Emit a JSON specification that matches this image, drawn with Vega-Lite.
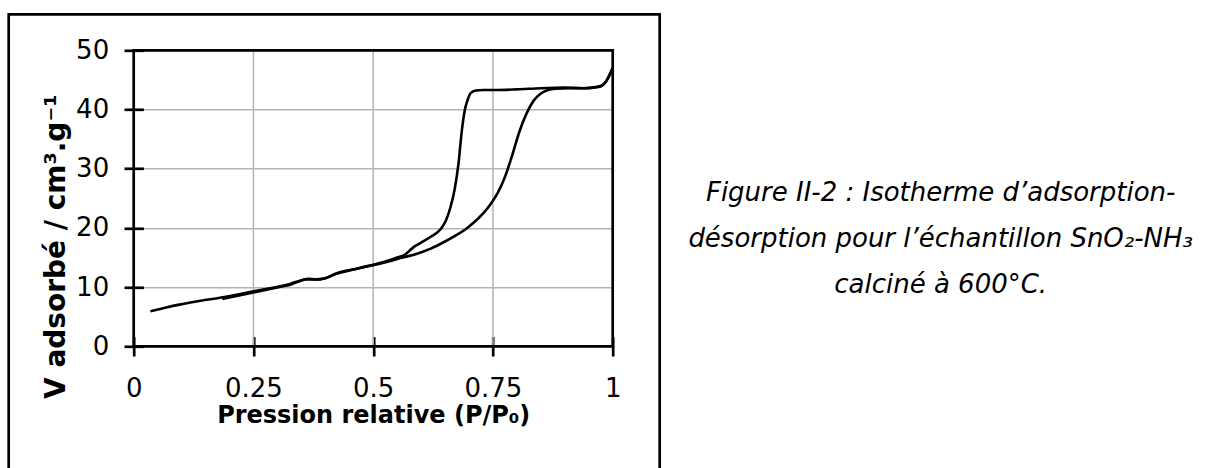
{
  "$schema": "https://vega.github.io/schema/vega-lite/v6.json",
  "background": "white",
  "padding": {"left": 6.7, "top": 12.3, "right": 0, "bottom": 0},
  "bounds": "flush",
  "spacing": 0,
  "config": {
    "view": {"stroke": "black", "strokeWidth": 2.7},
    "font": "DejaVu Sans"
  },
  "hconcat": [
    {
      "width": 651,
      "height": 460,
      "layer": [
        {
          "data": {"values": [{"g": 0.25}, {"g": 0.5}, {"g": 0.75}]},
          "mark": {"type": "rule", "color": "#b4b4b4", "strokeWidth": 1.5},
          "encoding": {
            "x": {"field": "g", "type": "quantitative"},
            "y": {"datum": 0, "type": "quantitative"},
            "y2": {"datum": 50}
          }
        },
        {
          "data": {"values": [
            {"b": "ads", "p": 0.035, "v": 5.9}, {"b": "ads", "p": 0.07, "v": 6.6}, {"b": "ads", "p": 0.10, "v": 7.1},
            {"b": "ads", "p": 0.14, "v": 7.7}, {"b": "ads", "p": 0.18, "v": 8.2}, {"b": "ads", "p": 0.22, "v": 8.8},
            {"b": "ads", "p": 0.25, "v": 9.3}, {"b": "ads", "p": 0.29, "v": 9.9}, {"b": "ads", "p": 0.32, "v": 10.4},
            {"b": "ads", "p": 0.34, "v": 10.9}, {"b": "ads", "p": 0.36, "v": 11.3}, {"b": "ads", "p": 0.385, "v": 11.3},
            {"b": "ads", "p": 0.40, "v": 11.5}, {"b": "ads", "p": 0.425, "v": 12.3}, {"b": "ads", "p": 0.45, "v": 12.8},
            {"b": "ads", "p": 0.47, "v": 13.2}, {"b": "ads", "p": 0.50, "v": 13.7}, {"b": "ads", "p": 0.53, "v": 14.3},
            {"b": "ads", "p": 0.557, "v": 14.9}, {"b": "ads", "p": 0.59, "v": 15.6}, {"b": "ads", "p": 0.62, "v": 16.5},
            {"b": "ads", "p": 0.65, "v": 17.7}, {"b": "ads", "p": 0.67, "v": 18.6}, {"b": "ads", "p": 0.69, "v": 19.6},
            {"b": "ads", "p": 0.71, "v": 20.9}, {"b": "ads", "p": 0.73, "v": 22.5}, {"b": "ads", "p": 0.745, "v": 24.0},
            {"b": "ads", "p": 0.76, "v": 25.9}, {"b": "ads", "p": 0.775, "v": 28.6}, {"b": "ads", "p": 0.79, "v": 32.2},
            {"b": "ads", "p": 0.805, "v": 36.2}, {"b": "ads", "p": 0.82, "v": 39.3}, {"b": "ads", "p": 0.835, "v": 41.5},
            {"b": "ads", "p": 0.85, "v": 42.7}, {"b": "ads", "p": 0.865, "v": 43.3}, {"b": "ads", "p": 0.88, "v": 43.5},
            {"b": "ads", "p": 0.91, "v": 43.6}, {"b": "ads", "p": 0.94, "v": 43.6},
            {"b": "ads", "p": 0.96, "v": 43.7}, {"b": "ads", "p": 0.975, "v": 43.9}, {"b": "ads", "p": 0.985, "v": 44.6},
            {"b": "ads", "p": 0.993, "v": 45.8}, {"b": "ads", "p": 1.0, "v": 47.0},
            {"b": "des", "p": 0.185, "v": 8.0}, {"b": "des", "p": 0.22, "v": 8.6}, {"b": "des", "p": 0.25, "v": 9.1},
            {"b": "des", "p": 0.28, "v": 9.6}, {"b": "des", "p": 0.31, "v": 10.1}, {"b": "des", "p": 0.33, "v": 10.5},
            {"b": "des", "p": 0.35, "v": 11.1}, {"b": "des", "p": 0.365, "v": 11.4}, {"b": "des", "p": 0.38, "v": 11.3},
            {"b": "des", "p": 0.40, "v": 11.5}, {"b": "des", "p": 0.42, "v": 12.2}, {"b": "des", "p": 0.44, "v": 12.7},
            {"b": "des", "p": 0.46, "v": 13.0}, {"b": "des", "p": 0.49, "v": 13.6}, {"b": "des", "p": 0.52, "v": 14.2},
            {"b": "des", "p": 0.55, "v": 15.0}, {"b": "des", "p": 0.565, "v": 15.4}, {"b": "des", "p": 0.585, "v": 16.8},
            {"b": "des", "p": 0.60, "v": 17.5}, {"b": "des", "p": 0.62, "v": 18.5}, {"b": "des", "p": 0.641, "v": 19.8},
            {"b": "des", "p": 0.652, "v": 21.3}, {"b": "des", "p": 0.661, "v": 23.4}, {"b": "des", "p": 0.67, "v": 26.5},
            {"b": "des", "p": 0.678, "v": 30.8}, {"b": "des", "p": 0.685, "v": 36.4}, {"b": "des", "p": 0.691, "v": 39.8},
            {"b": "des", "p": 0.697, "v": 41.6}, {"b": "des", "p": 0.704, "v": 42.8}, {"b": "des", "p": 0.714, "v": 43.2},
            {"b": "des", "p": 0.73, "v": 43.3}, {"b": "des", "p": 0.76, "v": 43.3}, {"b": "des", "p": 0.80, "v": 43.4},
            {"b": "des", "p": 0.85, "v": 43.6}, {"b": "des", "p": 0.90, "v": 43.7}, {"b": "des", "p": 0.94, "v": 43.6},
            {"b": "des", "p": 0.965, "v": 43.8}, {"b": "des", "p": 0.98, "v": 44.2}, {"b": "des", "p": 0.99, "v": 45.2},
            {"b": "des", "p": 1.0, "v": 47.0}
          ]},
          "mark": {"type": "line", "interpolate": "monotone", "color": "black", "strokeWidth": 2.6},
          "encoding": {
            "x": {
              "field": "p", "type": "quantitative",
              "scale": {"domain": [0, 1], "range": [125, 604], "nice": false, "zero": false},
              "axis": {
                "values": [0, 0.25, 0.5, 0.75, 1], "format": "~g",
                "domain": false, "grid": false,
                "ticks": true, "tickSize": 19.4, "tickWidth": 2.7, "tickColor": "black",
                "labelFont": "DejaVu Sans", "labelFontSize": 26, "labelColor": "black",
                "labelPadding": 20, "labelFlush": false, "labelOverlap": false,
                "offset": -137.7,
                "title": "Pression relative (P/P₀)", "titleFont": "DejaVu Sans", "titleFontSize": 24,
                "titleFontWeight": "bold", "titleColor": "black", "titlePadding": 2
              }
            },
            "y": {
              "field": "v", "type": "quantitative",
              "scale": {"domain": [0, 50], "range": [332, 36], "nice": false, "zero": false},
              "axis": {
                "values": [0, 10, 20, 30, 40, 50], "format": "~g",
                "domain": false, "grid": true, "gridColor": "#b4b4b4", "gridWidth": 1.5,
                "ticks": true, "tickSize": 19.4, "tickWidth": 2.7, "tickColor": "black",
                "labelFont": "DejaVu Sans", "labelFontSize": 26, "labelColor": "black",
                "labelPadding": 15.3, "labelFlush": false, "labelOverlap": false,
                "offset": -134.7,
                "title": "V adsorbé / cm³.g⁻¹", "titleFont": "DejaVu Sans", "titleFontSize": 28,
                "titleFontWeight": "bold", "titleColor": "black", "titlePadding": 5, "titleY": 232
              }
            },
            "detail": {"field": "b", "type": "nominal"}
          }
        },
        {
          "data": {"values": [{"frame": "plot"}]},
          "mark": {"type": "rect", "fill": null, "fillOpacity": 0, "stroke": "black", "strokeWidth": 2.7},
          "encoding": {
            "x": {"datum": 0, "type": "quantitative"},
            "x2": {"datum": 1},
            "y": {"datum": 0, "type": "quantitative"},
            "y2": {"datum": 50}
          }
        }
      ]
    },
    {
      "width": 562,
      "height": 460,
      "data": {"values": [{"caption": "Figure II-2 : Isotherme d’adsorption-\ndésorption pour l’échantillon SnO₂-NH₃\ncalciné à 600°C."}]},
      "mark": {"type": "text", "lineBreak": "\n", "font": "DejaVu Sans", "fontStyle": "italic", "fontSize": 26, "lineHeight": 46, "align": "center", "baseline": "middle", "color": "black", "dy": -51},
      "encoding": {"text": {"field": "caption", "type": "nominal"}}
    }
  ]
}
